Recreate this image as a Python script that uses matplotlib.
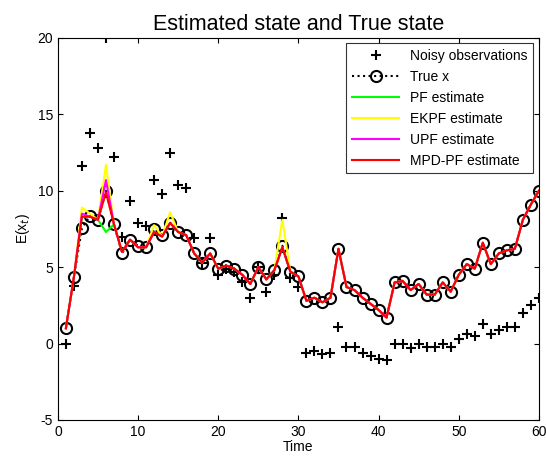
import numpy as np
import matplotlib
matplotlib.use("Agg")
import matplotlib.pyplot as plt

plt.rcParams['font.family'] = ['Liberation Sans', 'DejaVu Sans']
plt.rcParams['axes.unicode_minus'] = False

# time steps
t = list(range(1, 61))

# true state (circles)
true_x = [1.0, 4.35, 7.55, 8.35, 8.1, 10.0, 7.8, 5.9, 6.8, 6.4,
          6.3, 7.5, 7.1, 7.9, 7.3, 7.1, 5.9, 5.3, 5.9, 4.9,
          5.1, 4.9, 4.5, 3.9, 5.0, 4.2, 4.8, 6.4, 4.7, 4.4,
          2.8, 3.0, 2.7, 3.0, 6.2, 3.7, 3.5, 3.0, 2.6, 2.2,
          1.7, 4.0, 4.1, 3.5, 3.9, 3.2, 3.2, 4.0, 3.4, 4.5,
          5.2, 4.9, 6.6, 5.2, 5.9, 6.1, 6.2, 8.1, 9.1, 10.0]

# noisy observations (pluses)
noisy = [0.0, 3.8, 11.6, 13.8, 12.8, 20.0, 12.2, 7.0, 9.3, 7.9,
         7.7, 10.7, 9.8, 12.5, 10.4, 10.2, 6.9, 5.3, 6.9, 4.5,
         4.9, 4.7, 4.0, 3.0, 5.0, 3.4, 4.5, 8.2, 4.3, 3.7,
         -0.6, -0.5, -0.7, -0.6, 1.1, -0.2, -0.2, -0.6, -0.8, -1.0,
         -1.1, 0.0, 0.0, -0.3, 0.0, -0.2, -0.2, 0.0, -0.2, 0.3,
         0.6, 0.5, 1.3, 0.6, 0.9, 1.1, 1.1, 2.0, 2.5, 3.0]

# estimates (differ from truth only in a few places)
mpd_pf = list(true_x)
mpd_pf[2:14] = [8.3, 8.3, 8.1, 9.9, 7.8, 6.0, 6.8, 6.3, 6.3, 7.3, 7.0, 7.9]
mpd_pf[27] = 6.3

pf = list(mpd_pf)
pf[5] = 7.3
pf[6] = 7.8

ekpf = list(mpd_pf)
ekpf[2] = 8.9
ekpf[3] = 8.5
ekpf[5] = 11.7
ekpf[11] = 7.75
ekpf[13] = 8.6
ekpf[27] = 8.1

upf = list(mpd_pf)
upf[2] = 8.5
upf[5] = 10.7

fig, ax = plt.subplots(figsize=(5.46, 4.57), dpi=100)
fig.subplots_adjust(left=0.106, right=0.987, bottom=0.081, top=0.917)

ax.plot(t, noisy, 'k+', markersize=7, markeredgewidth=1.5, label='Noisy observations')
ax.plot(t, true_x, 'ko:', markersize=8, markerfacecolor='none', markeredgewidth=1.5, label='True x')
ax.plot(t, pf, color='#00ff00', lw=1.5, label='PF estimate')
ax.plot(t, ekpf, color='#ffff00', lw=1.5, label='EKPF estimate')
ax.plot(t, upf, color='#ff00ff', lw=1.5, label='UPF estimate')
ax.plot(t, mpd_pf, color='#ff0000', lw=1.5, label='MPD-PF estimate')

ax.set_xlim(0, 60)
ax.set_ylim(-5, 20)
ax.set_xticks(range(0, 61, 10))
ax.set_yticks(range(-5, 21, 5))
ax.tick_params(direction='in', top=True, right=True, labelsize=10)
ax.set_xlabel('Time', fontsize=10, labelpad=1)
ax.set_ylabel('E(x$_t$)', fontsize=10)
ax.set_title('Estimated state and True state', fontsize=15.5)

leg = ax.legend(loc='upper right', fontsize=10, fancybox=False, edgecolor='black',
                handlelength=3.4, borderaxespad=0.4, labelspacing=0.5)
leg.get_frame().set_linewidth(0.8)

fig.savefig('out.png')
